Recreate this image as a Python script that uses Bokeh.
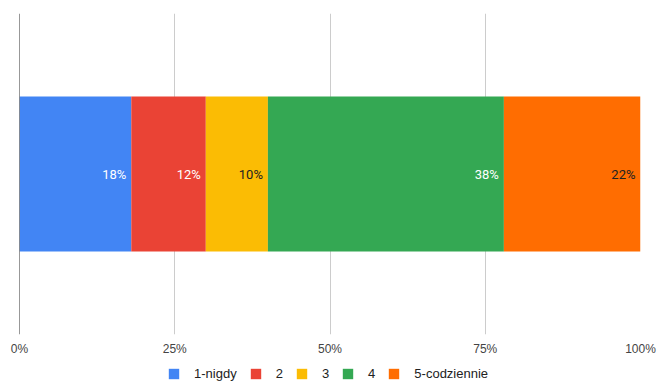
import numpy as np
from bokeh.plotting import figure
from bokeh.layouts import column
from bokeh.models import ColumnDataSource, Range1d, FixedTicker, CustomJSTickFormatter, Span, Legend
from bokeh.core.properties import value
from bokeh.embed import file_html
from bokeh.resources import INLINE

series = ["1-nigdy", "2", "3", "4", "5-codziennie"]
values = [18, 12, 10, 38, 22]
colors = ["#4285F4", "#EA4335", "#FBBC04", "#34A853", "#FF6D01"]
label_colors = ["#FFFFFF", "#FFFFFF", "#222222", "#FFFFFF", "#222222"]
ticks = [0, 25, 50, 75, 100]

BAR_FONT = "Roboto"
AXIS_FONT = "Liberation Sans"

p = figure(width=658, height=360, output_backend="svg", toolbar_location=None,
           x_range=Range1d(0, 100), y_range=Range1d(0, 1),
           min_border_left=19, min_border_right=18, min_border_top=13, min_border_bottom=26)
p.outline_line_color = None
p.background_fill_color = "white"
p.border_fill_color = "white"

data = {"y": [0.5]}
for s, v in zip(series, values):
    data[s] = [v]
src = ColumnDataSource(data)

p.hbar_stack(series, y="y", height=0.483, color=colors, source=src, line_width=0)

ends = np.cumsum(values)
lab_src = ColumnDataSource(dict(x=ends, y=[0.5] * len(values),
                                text=[f"{v}%" for v in values], c=label_colors))
p.text(x="x", y="y", text="text", source=lab_src, text_color="c",
       text_align="right", text_baseline="middle", x_offset=-5,
       text_font=value(BAR_FONT), text_font_size="13px")

p.yaxis.visible = False
p.ygrid.visible = False
p.xgrid.ticker = FixedTicker(ticks=ticks)
p.xgrid.grid_line_color = "#CCCCCC"
p.xgrid.grid_line_width = 1

p.xaxis.ticker = FixedTicker(ticks=ticks)
p.xaxis.formatter = CustomJSTickFormatter(code="return tick + '%';")
p.xaxis.axis_line_color = None
p.xaxis.major_tick_line_color = None
p.xaxis.minor_tick_line_color = None
p.xaxis.major_tick_out = 0
p.xaxis.major_tick_in = 0
p.xaxis.major_label_text_font = AXIS_FONT
p.xaxis.major_label_text_font_size = "12px"
p.xaxis.major_label_text_color = "#444444"
p.xaxis.major_label_standoff = 7

p.add_layout(Span(location=0, dimension="height", line_color="#333333", line_width=1))

# legend strip below the chart
lf = figure(width=658, height=22, output_backend="svg", toolbar_location=None,
            x_range=Range1d(0, 100), y_range=Range1d(10, 11),
            min_border_left=0, min_border_right=0, min_border_top=0, min_border_bottom=0)
lf.axis.visible = False
lf.grid.visible = False
lf.outline_line_color = None
leg_renderers = lf.hbar_stack(series, y="y", height=0.483, color=colors, source=src, line_width=0)
legend = Legend(items=[(s, [r]) for s, r in zip(series, leg_renderers)],
                orientation="horizontal", location=(148, 1),
                label_text_font=AXIS_FONT, label_text_font_size="13px", label_text_color="#222222",
                glyph_width=13, glyph_height=13, spacing=12, padding=0, margin=0,
                label_standoff=14, label_height=13, label_width=0, border_line_color=None,
                background_fill_alpha=0)
lf.add_layout(legend, "center")

layout = column(p, lf, spacing=0)
open("out.html", "w").write(file_html(layout, INLINE))
